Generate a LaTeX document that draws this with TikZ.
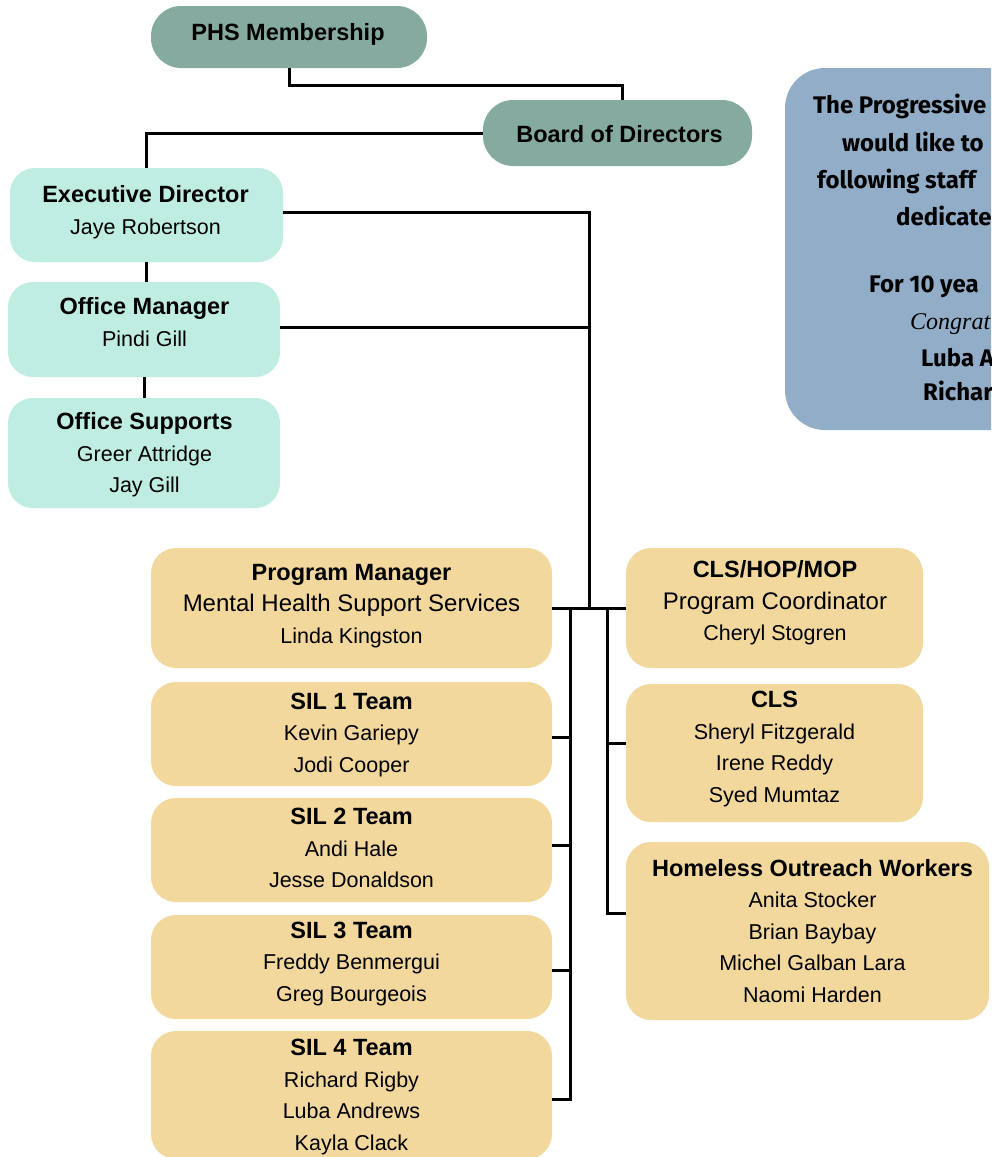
\documentclass[tikz,border=0pt]{standalone}
\usepackage{fontspec}
\newfontfamily\chartf{Liberation Sans}
\newfontfamily\notef{Fira Sans}
\newfontfamily\congf{Liberation Serif}
\definecolor{topc}{RGB}{133,170,160}
\definecolor{aquac}{RGB}{191,237,225}
\definecolor{beigec}{RGB}{242,216,157}
\definecolor{bluec}{RGB}{146,173,199}
\newcommand\hd[1]{{\fontsize{23.5}{31.5}\selectfont\bfseries #1}}
\newcommand\sbt[1]{{\fontsize{24}{31.5}\selectfont #1}}
\begin{document}
\begin{tikzpicture}[x=1pt,y=-1pt,
  conn/.style={line width=3pt},
  topbox/.style={fill=topc, rounded corners=30pt, inner sep=0pt},
  aquabox/.style={fill=aquac, rounded corners=25pt, inner sep=0pt},
  beigebox/.style={fill=beigec, rounded corners=25pt, inner sep=0pt},
  txt/.style={align=center, inner sep=0pt, font=\chartf\fontsize{21.5}{31.5}\selectfont},
  note/.style={anchor=base west, inner sep=0pt, font=\notef\bfseries\fontsize{24}{30}\selectfont}]
\clip (0,0) rectangle (991,1157);
\fill[white] (0,0) rectangle (991,1157);

% boxes
\node[topbox, minimum width=276pt, minimum height=62pt] (phs) at (289,37) {};
\node[topbox, minimum width=269pt, minimum height=66pt] (board) at (617.5,133) {};
\node[aquabox, minimum width=273pt, minimum height=94pt] (exec) at (146.5,215) {};
\node[aquabox, minimum width=272pt, minimum height=95pt] (om) at (144,329.5) {};
\node[aquabox, minimum width=272pt, minimum height=110pt] (os) at (144,453) {};
\node[beigebox, minimum width=401pt, minimum height=120pt] (pm) at (351.5,608) {};
\node[beigebox, minimum width=401pt, minimum height=104pt] (sil1) at (351.5,734) {};
\node[beigebox, minimum width=401pt, minimum height=104pt] (sil2) at (351.5,850) {};
\node[beigebox, minimum width=401pt, minimum height=104pt] (sil3) at (351.5,967) {};
\node[beigebox, minimum width=401pt, minimum height=128pt] (sil4) at (351.5,1095) {};
\node[beigebox, minimum width=297pt, minimum height=120pt] (clshop) at (774.5,608) {};
\node[beigebox, minimum width=297pt, minimum height=138pt] (cls) at (774.5,753) {};
\node[beigebox, minimum width=363pt, minimum height=178pt] (how) at (807.5,931) {};
\node[fill=bluec, rounded corners=40pt, inner sep=0pt, minimum width=500pt, minimum height=362pt] (note) at (1035,249) {};

% connectors
\coordinate (j) at (589,608);
\coordinate (lb) at (570,608);
\coordinate (rb) at (607,608);
\draw[conn] (phs.south) -- ++(0,17) -| ([xshift=4.5pt]board.north);
\draw[conn] (board.west) -| (exec.north);
\draw[conn] ([yshift=3pt]exec.east) -| (j);
\draw[conn] ([yshift=2.5pt]om.east) -- ([yshift=2.5pt]om.east -| j);
\draw[conn] (exec.south) -- (exec.south |- om.north);
\draw[conn] (om.south) -- (om.south |- os.north);
\draw[conn] (pm.east) -- (clshop.west);
\draw[conn] (lb) |- ([yshift=-4pt]sil4.east);
\draw[conn] ([yshift=-3pt]sil1.east) -- ([yshift=-3pt]sil1.east -| lb);
\draw[conn] ([yshift=5pt]sil2.east) -- ([yshift=5pt]sil2.east -| lb);
\draw[conn] ([yshift=-3.7pt]sil3.east) -- ([yshift=-3.7pt]sil3.east -| lb);
\draw[conn] (rb) |- ([yshift=18pt]how.west);
\draw[conn] ([yshift=10pt]cls.west) -- ([yshift=10pt]cls.west -| rb);

% texts
\node[txt] (phs-t) at (288,34) {\hd{PHS Membership}};
\node[txt] (board-t) at (619.5,134) {\hd{Board of Directors}};
\node[txt] (exec-t) at (145.5,212) {\hd{Executive Director}\\Jaye Robertson};
\node[txt] (om-t) at (144.5,322) {\hd{Office Manager}\\Pindi Gill};
\node[txt] (os-t) at (144.5,455) {\hd{Office Supports}\\Greer Attridge\\Jay Gill};
\node[txt] (pm-t) at (351.5,606) {\hd{Program Manager}\\\sbt{Mental Health Support Services}\\Linda Kingston};
\node[txt] (sil1-t) at (351.5,735) {\hd{SIL 1 Team}\\Kevin Gariepy\\Jodi Cooper};
\node[txt] (sil2-t) at (351.5,848) {\hd{SIL 2 Team}\\Andi Hale\\Jesse Donaldson};
\node[txt] (sil3-t) at (351.5,964) {\hd{SIL 3 Team}\\Freddy Benmergui\\Greg Bourgeois};
\node[txt] (sil4-t) at (351.5,1097) {\hd{SIL 4 Team}\\Richard Rigby\\Luba Andrews\\Kayla Clack};
\node[txt] (clshop-t) at (775,603) {\hd{CLS/HOP/MOP}\\\sbt{Program Coordinator}\\Cheryl Stogren};
\node[txt] (cls-t) at (774.5,749) {\hd{CLS}\\Sheryl Fitzgerald\\Irene Reddy\\Syed Mumtaz};
\node[txt] (how-t) at (812.5,931) {\hd{Homeless Outreach Workers}\\Anita Stocker\\Brian Baybay\\Michel Galban Lara\\Naomi Harden};

% note text
\node[note] (n1) at (813,113) {The Progressive};
\node[note] (n2) at (842,151) {would like to};
\node[note] (n3) at (817,188) {following staff};
\node[note] (n4) at (896,225) {dedicate};
\node[note] (n5) at (869,292) {For 10 yea};
\node[note, font=\congf\itshape\fontsize{24}{28}\selectfont] (n6) at (910,329) {Congrat};
\node[note] (n7) at (921,366) {Luba A};
\node[note] (n8) at (923,400) {Richar};
\end{tikzpicture}
\end{document}
